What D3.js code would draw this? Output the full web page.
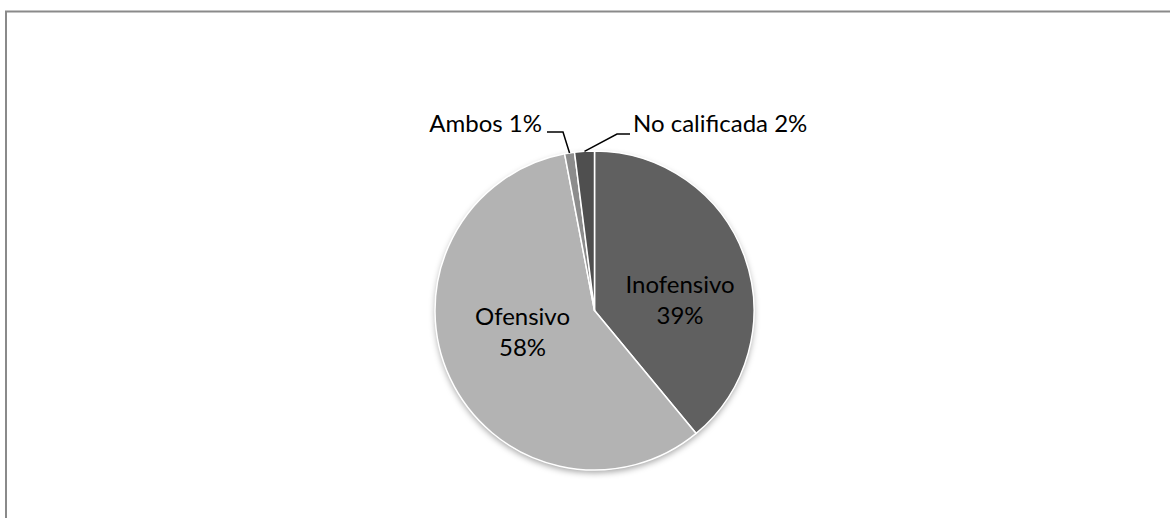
<!DOCTYPE html>
<html>
<head>
<meta charset="utf-8">
<script src="https://cdn.jsdelivr.net/npm/d3@7"></script>
<style>
  html, body { margin: 0; padding: 0; background: #fff; }
  svg { display: block; }
  text { font-family: Lato, "Open Sans", sans-serif; fill: #000; }
</style>
</head>
<body>
<svg id="chart" width="1170" height="518"></svg>
<script>
// Categories and their percentages (clockwise from 12 o'clock)
const categories = ["Inofensivo", "Ofensivo", "Ambos", "No calificada"];
const values = [39, 58, 1, 2];
const colors = ["#606060", "#b3b3b3", "#8c8c8c", "#4f4f4f"];
// Which labels sit inside the slice and which sit outside with a leader line
const labelInside = [true, true, false, false];

const width = 1170, height = 518;
const cx = 594.5, cy = 310.5, radius = 159.5;

const svg = d3.select("#chart");

// Chart area frame (runs past the right and bottom edges)
svg.append("rect")
  .attr("x", 6).attr("y", 11.5)
  .attr("width", width + 20).attr("height", height + 20)
  .attr("fill", "none")
  .attr("stroke", "#8a8a8a")
  .attr("stroke-width", 2);

const defs = svg.append("defs");
const shadow = defs.append("filter").attr("id", "pieShadow")
  .attr("x", "-20%").attr("y", "-20%").attr("width", "140%").attr("height", "140%");
shadow.append("feDropShadow")
  .attr("dx", 0).attr("dy", 3).attr("stdDeviation", 3)
  .attr("flood-color", "#000").attr("flood-opacity", 0.35);

const data = categories.map((c, i) => ({ name: c, value: values[i], color: colors[i], inside: labelInside[i] }));

const pie = d3.pie().value(d => d.value).sort(null);
const arcs = pie(data);
const arc = d3.arc().innerRadius(0).outerRadius(radius);

const g = svg.append("g").attr("transform", `translate(${cx},${cy})`);

// Shadow disc behind the slices
g.append("circle").attr("r", radius).attr("fill", "#b3b3b3").attr("filter", "url(#pieShadow)");

g.selectAll("path.slice")
  .data(arcs)
  .enter().append("path")
  .attr("class", "slice")
  .attr("d", arc)
  .attr("fill", d => d.data.color)
  .attr("stroke", "#fff")
  .attr("stroke-width", 1.5)
  .attr("stroke-linejoin", "round");

const fmt = d => d3.format(".0f")(d.value) + "%";

// Labels inside the two large slices: name on the first line, percentage below
const insideArc = d3.arc().innerRadius(radius * 0.62).outerRadius(radius * 0.62);
const innerOffsets = { "Inofensivo": [-7.5, 16], "Ofensivo": [17.5, -27.5] };
const lineHeight = 31;

g.selectAll("text.inner")
  .data(arcs.filter(d => d.data.inside))
  .enter().append("text")
  .attr("class", "inner")
  .attr("text-anchor", "middle")
  .attr("font-size", 24)
  .each(function(d) {
    const [x, y] = insideArc.centroid(d);
    const off = innerOffsets[d.data.name];
    const t = d3.select(this).attr("transform", `translate(${x + off[0]},${y + off[1]})`);
    t.append("tspan").attr("x", 0).attr("y", 0).text(d.data.name);
    t.append("tspan").attr("x", 0).attr("y", lineHeight).text(fmt(d.data));
  });

// Outside labels with bent leader lines
const edgeArc = d3.arc().innerRadius(radius).outerRadius(radius);
const outside = {
  "Ambos":         { elbow: [-31.5, -178.5], end: [-47.5, -178.5], anchor: "end",   tx: -52.5, ty: -178.5 },
  "No calificada": { elbow: [22.5, -176.5],  end: [35.5, -176.5],  anchor: "start", tx: 38.5,  ty: -178.5 }
};
arcs.filter(d => !d.data.inside).forEach(d => {
  const o = outside[d.data.name];
  const [ex, ey] = edgeArc.centroid(d);
  g.append("polyline")
    .attr("points", [[ex, ey], o.elbow, o.end].map(p => p.join(",")).join(" "))
    .attr("fill", "none")
    .attr("stroke", "#000")
    .attr("stroke-width", 1.5);
  g.append("text")
    .attr("x", o.tx).attr("y", o.ty)
    .attr("text-anchor", o.anchor)
    .attr("font-size", 24)
    .text(`${d.data.name} ${fmt(d.data)}`);
});
</script>
</body>
</html>
